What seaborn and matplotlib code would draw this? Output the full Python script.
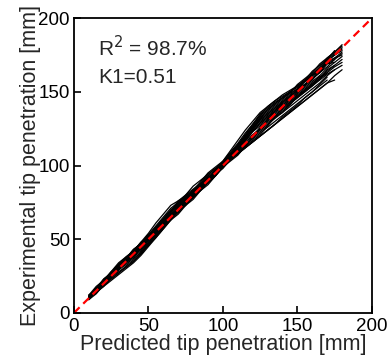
import pandas as pd
import numpy as np
import matplotlib
matplotlib.use("Agg")
import matplotlib.pyplot as plt
import seaborn as sns

sns.set_style("ticks")
plt.rcParams['font.family'] = ['Liberation Sans', 'DejaVu Sans']

# --- Data (mm) ---
pred = [10, 15, 20, 25, 30, 35, 40, 45, 50, 55, 60, 65, 70, 75, 80, 85, 90, 95,
        100, 105, 110, 115, 120, 125, 130, 135, 140, 145, 150, 155, 160, 165, 170, 175, 180]

exp_runs = [
    [11, 15, 22, 26, 32, 36, 40, 46, 52, 58, 62, 68, 74, 78, 82, 86, 92, 96, 100, 106, 112, 119, 125, 131, 135, 139, 143, 147, 151, 155, 159, 165, 171, 175, 178],
    [10, 14, 20, 24, 28, 31, 35, 40, 46, 52, 59, 65, 71, 75, 79, 83, 89, 95, 101, 105, 109, 113, 117, 121, 127, 133, 136, 140, 144, 148, 152, 156, 161, 165],
    [12, 16, 23, 27, 33, 37, 41, 47, 53, 59, 65, 71, 75, 79, 83, 87, 91, 97, 103, 109, 115, 122, 128, 134, 138, 142, 146, 150, 154, 158, 162, 167, 173, 177, 182],
    [9, 15, 19, 25, 29, 33, 37, 41, 47, 53, 59, 63, 67, 73, 79, 85, 89, 93, 99, 105, 108, 112, 116, 120, 124, 128, 132, 136, 140, 144, 148, 152, 156, 158],
    [10, 16, 20, 26, 30, 36, 39, 45, 51, 55, 61, 67, 71, 75, 81, 85, 89, 95, 101, 107, 111, 117, 123, 127, 131, 137, 141, 145, 149, 155, 161, 165, 170],
    [11, 17, 21, 27, 33, 37, 43, 47, 51, 57, 63, 69, 76, 80, 84, 88, 94, 98, 102, 108, 114, 121, 128, 135, 139, 143, 146, 149, 152, 155, 159, 163, 169, 172, 176],
    [10, 15, 19, 23, 27, 31, 35, 40, 46, 52, 58, 64, 70, 76, 82, 86, 90, 96, 100, 104, 110, 116, 120, 124, 128, 132, 136, 142, 146, 150, 154, 159, 163],
    [11, 15, 21, 25, 31, 35, 41, 45, 49, 55, 61, 65, 69, 73, 79, 85, 91, 95, 99, 105, 111, 118, 124, 128, 132, 136, 140, 144, 148, 152, 156, 160, 164, 168, 172],
    [12, 18, 22, 28, 34, 38, 42, 48, 54, 61, 67, 73, 76, 79, 83, 87, 93, 97, 101, 107, 113, 120, 126, 132, 136, 140, 144, 148, 152, 158, 164, 168, 172, 178],
    [10, 14, 20, 26, 30, 34, 40, 44, 50, 56, 60, 64, 70, 76, 80, 84, 90, 94, 100, 104, 108, 112, 116, 120, 124, 128, 132, 136, 140, 144, 148, 152, 156, 161, 165],
    [10, 16, 21, 25, 31, 37, 41, 45, 51, 57, 61, 67, 73, 77, 81, 87, 91, 97, 101, 107, 113, 119, 125, 129, 133, 137, 143, 147, 151, 157, 161, 165, 171, 175, 180],
    [9, 13, 19, 23, 27, 32, 36, 41, 46, 51, 57, 63, 69, 73, 77, 83, 89, 93, 99, 105, 109, 113, 119, 123, 127, 133, 139, 143, 147, 151, 155, 161],
    [11, 17, 23, 27, 31, 37, 43, 47, 51, 57, 63, 69, 75, 79, 83, 89, 95, 99, 103, 110, 117, 124, 130, 136, 140, 144, 148, 151, 154, 157, 161, 165, 169, 170],
    [10, 14, 18, 22, 26, 30, 34, 39, 45, 51, 57, 63, 69, 75, 79, 83, 87, 93, 99, 103, 107, 113, 119, 125, 131, 135, 139, 143, 147, 151, 155, 159, 163, 167, 170],
    [11, 16, 22, 27, 33, 38, 42, 47, 53, 58, 64, 69, 73, 78, 82, 87, 91, 96, 102, 107, 113, 119, 126, 132, 138, 142, 146, 150, 154, 158, 162, 166, 170, 173, 175],
    [10, 15, 21, 26, 30, 35, 39, 44, 50, 55, 61, 66, 70, 75, 79, 84, 88, 93, 99, 104, 108, 112, 116, 120, 124, 128, 133, 137, 141, 146, 150, 155, 160],
    [10, 16, 20, 24, 30, 36, 40, 44, 48, 54, 60, 66, 72, 78, 82, 86, 90, 96, 102, 108, 114, 120, 126, 130, 134, 138, 142, 146, 150, 154, 158, 164, 170, 173, 177],
    [11, 15, 19, 25, 31, 35, 39, 43, 47, 53, 59, 65, 71, 77, 81, 85, 89, 95, 101, 107, 113, 117, 121, 125, 129, 133, 137, 141, 147, 151, 155, 159, 165, 168],
    [12, 16, 22, 28, 32, 36, 42, 48, 52, 58, 64, 70, 74, 80, 86, 90, 94, 98, 102, 106, 112, 119, 126, 133, 137, 141, 145, 149, 155, 159, 163, 169, 173, 177, 181],
    [10, 14, 18, 24, 30, 34, 38, 42, 48, 54, 60, 64, 68, 74, 80, 86, 90, 94, 98, 104, 110, 114, 118, 122, 126, 130, 134, 138, 142, 146, 150, 154, 158],
    [11, 17, 21, 25, 29, 35, 41, 47, 53, 57, 61, 65, 71, 77, 83, 87, 91, 95, 99, 105, 111, 117, 123, 129, 133, 137, 141, 145, 149, 153, 157, 161, 166, 170, 174],
    [9, 15, 21, 27, 31, 35, 39, 43, 47, 52, 58, 65, 72, 78, 82, 86, 90, 96, 100, 106, 112, 118, 125, 131, 135, 139, 143, 147, 151, 155, 159, 163, 167, 172],
    [10, 16, 22, 26, 30, 34, 38, 44, 50, 56, 62, 66, 70, 74, 78, 84, 90, 94, 100, 104, 108, 114, 120, 126, 130, 134, 138, 142, 146, 150, 154, 158, 162, 165, 168],
    [11, 15, 21, 27, 31, 37, 43, 47, 51, 55, 62, 68, 74, 78, 82, 88, 92, 96, 102, 106, 113, 120, 127, 134, 140, 144, 147, 150, 153, 157, 161, 166, 172, 176, 179],
]

ideal = [0, 200]
ticks = [0, 50, 100, 150, 200]
r2_text = "R$^2$ = 98.7%"
k1_text = "K1=0.51"

rows = []
for i, ys in enumerate(exp_runs):
    for x, y in zip(pred, ys):
        rows.append({"run": i, "pred": x, "exp": y})
df = pd.DataFrame(rows)

fig, ax = plt.subplots(figsize=(3.87, 3.63), dpi=100)
fig.subplots_adjust(left=0.191, right=0.961, bottom=0.138, top=0.950)

sns.lineplot(data=df, x="pred", y="exp", units="run", estimator=None,
             color="black", lw=0.9, ax=ax)
sns.lineplot(x=ideal, y=ideal, color="red", lw=1.6, ax=ax,
             linestyle=(0, (3.6, 2.3)))

ax.set_xlim(0, 200)
ax.set_ylim(0, 200)
ax.set_xticks(ticks)
ax.set_yticks(ticks)
ax.tick_params(direction="in", length=5, width=1.2, labelsize=13.5,
               colors="black")
ax.tick_params(axis="x", pad=4)
ax.tick_params(axis="y", pad=3)
for s in ax.spines.values():
    s.set_linewidth(1.3)
    s.set_color("black")
ax.set_xlabel("Predicted tip penetration [mm]", fontsize=15.5, labelpad=-1)
ax.set_ylabel("Experimental tip penetration [mm]", fontsize=15.5, labelpad=-2)

ax.text(16, 180, r2_text, fontsize=15, va="center")
ax.text(16, 160, k1_text, fontsize=15, va="center")

fig.savefig("out.png", dpi=100)
